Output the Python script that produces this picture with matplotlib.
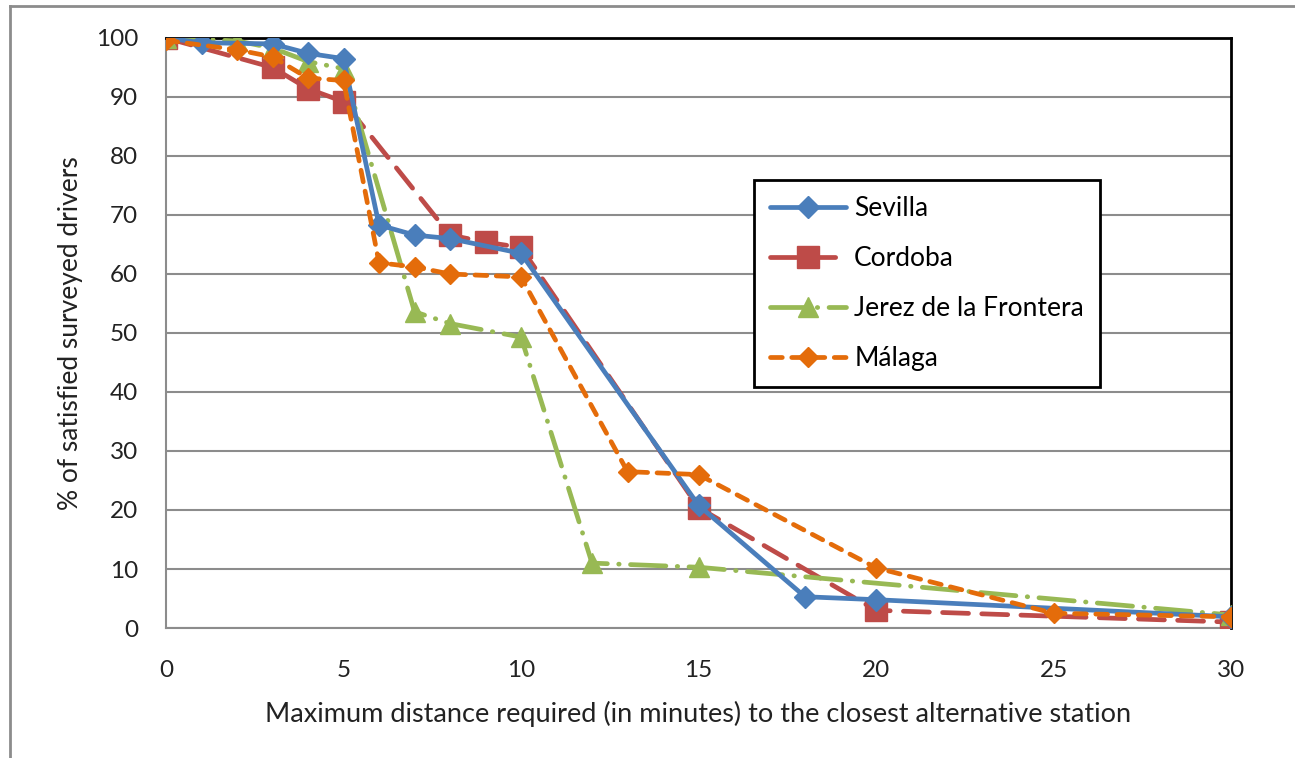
import matplotlib.pyplot as plt
from matplotlib.lines import Line2D

plt.rcParams['font.family'] = ['Lato', 'DejaVu Sans']

# --- data ---
sevilla_x = [0, 1, 3, 4, 5, 6, 7, 8, 10, 15, 18, 20, 30]
sevilla_y = [100, 99.2, 99.0, 97.4, 96.5, 68.3, 66.6, 66.0, 63.5, 20.8, 5.3, 4.8, 1.9]

cordoba_x = [0, 3, 4, 5, 8, 9, 10, 15, 20, 30]
cordoba_y = [100, 95.0, 91.4, 89.2, 66.6, 65.4, 64.5, 20.4, 3.0, 1.0]

jerez_x = [0, 2, 3, 4, 5, 7, 8, 10, 12, 15, 30]
jerez_y = [100, 99.5, 98.3, 96.0, 94.8, 53.6, 51.6, 49.3, 11.0, 10.3, 2.2]

malaga_x = [0, 2, 3, 4, 5, 6, 7, 8, 10, 13, 15, 20, 25, 30]
malaga_y = [99.6, 98.0, 96.8, 93.2, 92.8, 61.9, 61.2, 60.0, 59.5, 26.5, 26.0, 10.2, 2.5, 1.9]

x_ticks = [0, 5, 10, 15, 20, 25, 30]
y_ticks = list(range(0, 101, 10))

fig = plt.figure(figsize=(12.95, 7.58), dpi=100)
ax = fig.add_axes([0.1282, 0.1715, 0.8224, 0.7784])

lw = 3.4
ax.plot(sevilla_x, sevilla_y, color='#4A7EBB', lw=lw, marker='D', ms=11,
        solid_capstyle='round', label='Sevilla', zorder=4)
ax.plot(cordoba_x, cordoba_y, color='#BE4B48', lw=lw, marker='s', ms=16,
        dashes=(5.5, 2.8), dash_capstyle='round', label='Cordoba', zorder=3)
ax.plot(jerez_x, jerez_y, color='#98B954', lw=lw, marker='^', ms=15,
        dashes=(7.5, 2.4, 0.1, 2.4), dash_capstyle='round',
        label='Jerez de la Frontera', zorder=3)
ax.plot(malaga_x, malaga_y, color='#E46C0A', lw=lw, marker='D', ms=10,
        dashes=(2.5, 2.0), dash_capstyle='round', label='Málaga', zorder=5)

ax.set_xlim(0, 30)
ax.set_ylim(0, 100)
ax.set_xticks(x_ticks)
ax.set_yticks(y_ticks)
ax.tick_params(length=0, labelsize=17.5, colors='#222222')
ax.tick_params(axis='y', pad=20)
ax.tick_params(axis='x', pad=23)
ax.yaxis.grid(True, color='#8C8C8C', lw=1.5)
ax.set_axisbelow(True)

for s in ['left', 'bottom']:
    ax.spines[s].set_color('#8C8C8C')
    ax.spines[s].set_linewidth(1.5)
for s in ['top', 'right']:
    ax.spines[s].set_color('black')
    ax.spines[s].set_linewidth(2)

ax.set_xlabel('Maximum distance required (in minutes) to the closest alternative station',
              fontsize=19.5, color='#222222', labelpad=14)
ax.set_ylabel('% of satisfied surveyed drivers', fontsize=19, color='#222222', labelpad=9)

leg = ax.legend(loc='upper left', bbox_to_anchor=(0.552, 0.759), fontsize=19,
                frameon=True, fancybox=False, edgecolor='black', framealpha=1,
                borderaxespad=0, handlelength=2.9, labelspacing=0.95,
                borderpad=0.6, handletextpad=0.3)
leg.get_frame().set_linewidth(2)

# outer chart-area border (left and top)
fig.add_artist(Line2D([10 / 1295, 10 / 1295], [0, 1 - 6 / 758], transform=fig.transFigure,
                      color='#8C8C8C', lw=2))
fig.add_artist(Line2D([10 / 1295, 1], [1 - 6 / 758, 1 - 6 / 758], transform=fig.transFigure,
                      color='#8C8C8C', lw=2))

fig.savefig('out.png', dpi=100)
